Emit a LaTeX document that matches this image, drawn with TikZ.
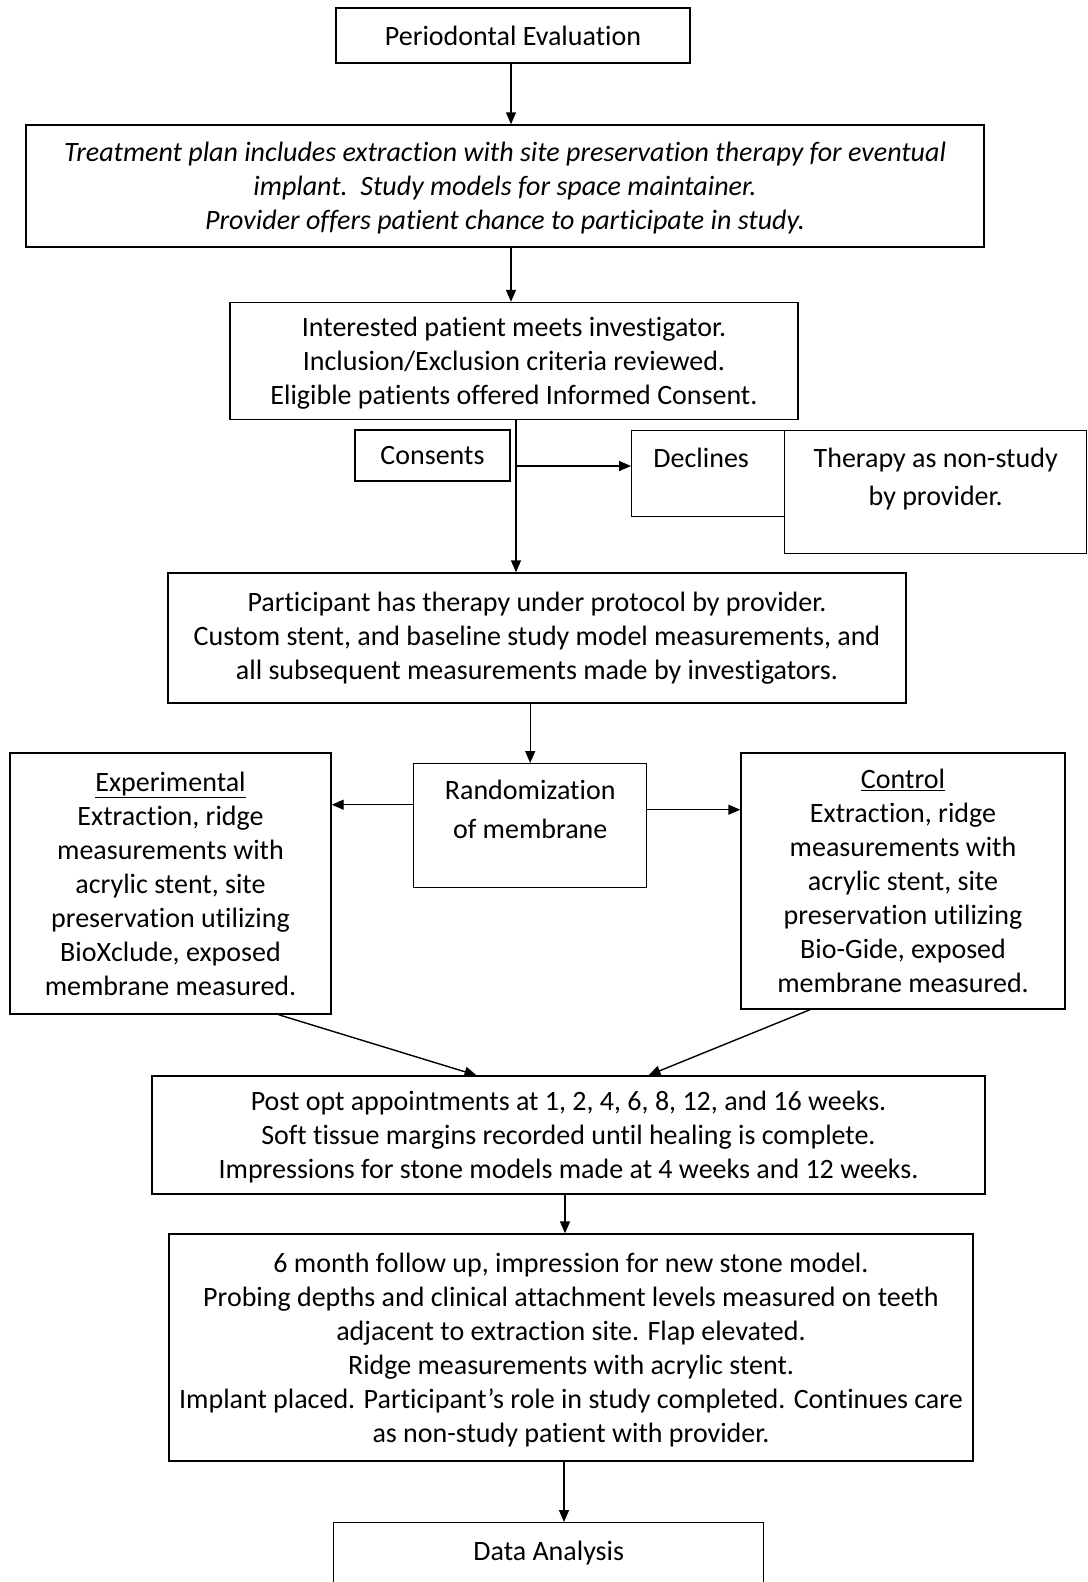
\documentclass[tikz,border=0pt]{standalone}
\usepackage{fontspec}
\setmainfont{Carlito}[Ligatures=NoCommon]
\usepackage{tikz}
\usetikzlibrary{arrows.meta, positioning, calc}

\begin{document}
\begin{tikzpicture}[
	  x=1pt, y=-1pt,
	  font=\fontsize{28}{34}\selectfont,
	  box/.style={
	    draw,
	    line width=1.4pt,
	    align=center,
	    inner sep=0pt
	  },
	  lowbox/.style={box,text depth=0pt},
	  topbox/.style={box,anchor=north west},
	  arrow/.style={-{Triangle[length=12pt,width=10pt]},line width=1.4pt}
	]
	\useasboundingbox (0,0) rectangle (1087,1582);
	
	\node[box,minimum width=354pt,minimum height=55pt] (eval) at (513,35.5) {Periodontal Evaluation};
	\node[lowbox,minimum width=958pt,minimum height=122pt,font=\fontsize{28}{34}\selectfont\itshape] (plan) at (505,186)
	  {Treatment plan includes extraction with site preservation therapy for eventual\\implant.\ \ Study models for space maintainer.\\Provider offers patient chance to participate in study.};
	\node[lowbox,minimum width=568pt,minimum height=117pt] (meet) at (514,361)
	  {Interested patient meets investigator.\\Inclusion/Exclusion criteria reviewed.\\Eligible patients offered Informed Consent.};
	
	\node[box,minimum width=155pt,minimum height=51pt] (consents) at (432.5,455.5) {\raisebox{-3pt}{Consents}};
	\node[topbox,minimum width=153pt,text height=37pt,text depth=49pt] (declines) at (631,430) {\hspace*{-14pt}Declines};
	\node[topbox,minimum width=302pt,text height=75pt,text depth=48pt] (nonstudy) at (784,430)
	  {Therapy as non-study\\[4pt]by provider.};
	
	\node[box,minimum width=738pt,minimum height=130pt] (therapy) at (537,638)
	  {Participant has therapy under protocol by provider.\\Custom stent, and baseline study model measurements, and\\all subsequent measurements made by investigators.};
	
	\node[topbox,minimum width=233pt,text height=75pt,text depth=49pt] (random) at (413,763)
	  {Randomization\\[5pt]of membrane};
	\node[box,minimum width=321pt,minimum height=261pt] (exper) at (170.5,883.5)
	  {\underline{Experimental}\\Extraction, ridge\\measurements with\\acrylic stent, site\\preservation utilizing\\BioXclude, exposed\\membrane measured.};
	\node[box,minimum width=324pt,minimum height=256pt] (control) at (903,881)
	  {\underline{Control}\\Extraction, ridge\\measurements with\\acrylic stent, site\\preservation utilizing\\Bio-Gide, exposed\\membrane measured.};
	
	\node[lowbox,minimum width=833pt,minimum height=118pt] (postop) at (568.5,1135)
	  {Post opt appointments at 1, 2, 4, 6, 8, 12, and 16 weeks.\\Soft tissue margins recorded until healing is complete.\\Impressions for stone models made at 4 weeks and 12 weeks.};
	\node[lowbox,minimum width=804pt,minimum height=227pt] (followup) at (571,1347.5)
	  {6 month follow up, impression for new stone model.\\Probing depths and clinical attachment levels measured on teeth\\adjacent to extraction site. Flap elevated.\\Ridge measurements with acrylic stent.\\Implant placed. Participant's role in study completed. Continues care\\as non-study patient with provider.};
	\node[topbox,minimum width=430pt,text height=38pt,text depth=30pt] (data) at (333,1522) {Data Analysis};
	
	% connectors
	\coordinate (split) at (516,466);
	\coordinate (toexp) at ([yshift=21pt]random.west);
	\coordinate (toctrl) at ([yshift=16pt]random.east);
	
	\draw[arrow] (eval.south -| 511,0) -- (plan.north -| 511,0);
	\draw[arrow] (plan.south -| 511,0) -- (meet.north -| 511,0);
	\draw[arrow] (split |- meet.south) -- (split |- therapy.north);
	\draw[arrow] (split) -- (split -| declines.west);
	\draw[arrow] (therapy.south -| random.north) -- (random.north);
	\draw[arrow] (toexp) -- (toexp -| exper.east);
	\draw[arrow] (toctrl) -- (toctrl -| control.west);
	\draw[arrow] ([xshift=108pt]exper.south) -- ([xshift=-92pt]postop.north);
	\draw[arrow] ([xshift=-93pt]control.south) -- ([xshift=80pt]postop.north);
	\draw[arrow] (postop.south -| 565,0) -- (followup.north -| 565,0);
	\draw[arrow] (followup.south -| 564,0) -- (data.north -| 564,0);
	
\end{tikzpicture}
\end{document}
